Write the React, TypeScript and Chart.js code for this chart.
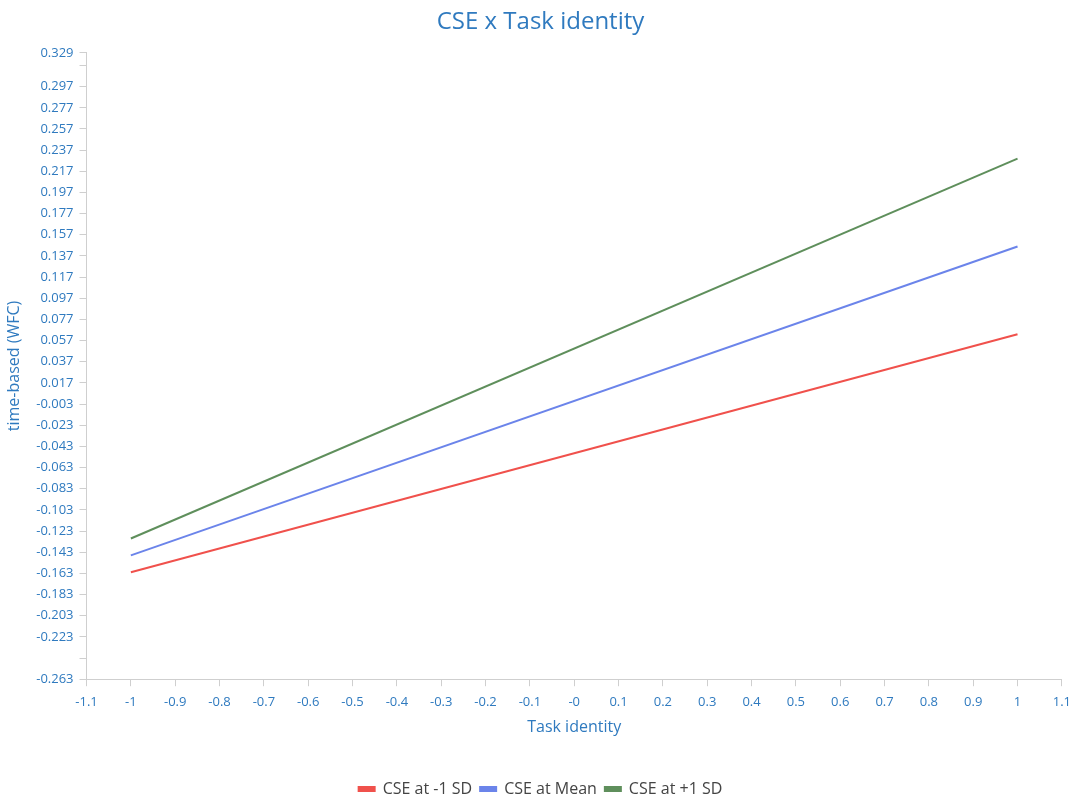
import React, { useEffect, useRef } from "react";
import { Chart, registerables } from "chart.js";

Chart.register(...registerables);

// Simple slopes of time-based WFC on task identity at three CSE levels
const xEnds = [-1, 1];
const lowSD = [-0.162, 0.063];
const meanCSE = [-0.146, 0.146];
const highSD = [-0.13, 0.229];

const seriesNames = ["CSE at -1 SD", "CSE at Mean", "CSE at +1 SD"];
const seriesColors = ["#f0514c", "#6b84ea", "#5f8f5c"];

const xTickValues = [-1.1, -1, -0.9, -0.8, -0.7, -0.6, -0.5, -0.4, -0.3, -0.2, -0.1, 0, 0.1, 0.2, 0.3, 0.4, 0.5, 0.6, 0.7, 0.8, 0.9, 1, 1.1];
const xTickLabels = ["-1.1", "-1", "-0.9", "-0.8", "-0.7", "-0.6", "-0.5", "-0.4", "-0.3", "-0.2", "-0.1", "-0", "0.1", "0.2", "0.3", "0.4", "0.5", "0.6", "0.7", "0.8", "0.9", "1", "1.1"];

const yTickValues = [0.329, 0.317, 0.297, 0.277, 0.257, 0.237, 0.217, 0.197, 0.177, 0.157, 0.137, 0.117, 0.097, 0.077, 0.057, 0.037, 0.017, -0.003, -0.023, -0.043, -0.063, -0.083, -0.103, -0.123, -0.143, -0.163, -0.183, -0.203, -0.223, -0.243, -0.263];
const yTickLabels = ["0.329", "", "0.297", "0.277", "0.257", "0.237", "0.217", "0.197", "0.177", "0.157", "0.137", "0.117", "0.097", "0.077", "0.057", "0.037", "0.017", "-0.003", "-0.023", "-0.043", "-0.063", "-0.083", "-0.103", "-0.123", "-0.143", "-0.163", "-0.183", "-0.203", "-0.223", "", "-0.263"];

const FONT = "'Open Sans', 'Noto Sans', sans-serif";
const BLUE = "#2f7abf";
const AXIS = "#cfcfcf";

export default function App() {
  const ref = useRef<HTMLCanvasElement | null>(null);

  useEffect(() => {
    document.body.style.margin = "0";
    const canvas = ref.current;
    if (!canvas) return;
    const series = [lowSD, meanCSE, highSD];
    const chart = new Chart(canvas, {
      type: "line",
      data: {
        datasets: series.map((ys, i) => ({
          label: seriesNames[i],
          data: xEnds.map((x, j) => ({ x, y: ys[j] })),
          borderColor: seriesColors[i],
          backgroundColor: seriesColors[i],
          borderWidth: 2,
          pointRadius: 0,
          tension: 0,
        })),
      },
      options: {
        animation: false,
        responsive: false,
        maintainAspectRatio: false,
        layout: { padding: { left: 5, right: 3, top: 4, bottom: -3 } },
        plugins: {
          title: {
            display: true,
            text: "CSE x Task identity",
            color: BLUE,
            font: { family: FONT, size: 24, weight: "normal" },
            padding: { top: 4, bottom: 16 },
          },
          legend: {
            position: "bottom",
            labels: {
              color: "#444",
              font: { family: FONT, size: 16 },
              boxWidth: 16,
              boxHeight: 4,
              padding: 8,
            },
          },
          tooltip: { enabled: false },
        },
        scales: {
          x: {
            type: "linear",
            min: -1.1,
            max: 1.1,
            afterBuildTicks: (scale: any) => {
              scale.ticks = xTickValues.map((v) => ({ value: v }));
            },
            ticks: {
              autoSkip: false,
              maxRotation: 0,
              color: BLUE,
              font: { family: FONT, size: 13 },
              padding: 8,
              callback: (_v: any, i: number) => xTickLabels[i],
            },
            grid: { drawOnChartArea: false, drawTicks: true, tickLength: 7, color: AXIS },
            border: { display: true, color: AXIS },
            title: {
              display: true,
              text: "Task identity",
              color: BLUE,
              font: { family: FONT, size: 16 },
              padding: { top: 0, bottom: 36 },
            },
          },
          y: {
            type: "linear",
            min: -0.263,
            max: 0.329,
            afterBuildTicks: (scale: any) => {
              scale.ticks = yTickValues.map((v) => ({ value: v }));
            },
            ticks: {
              autoSkip: false,
              color: BLUE,
              font: { family: FONT, size: 13 },
              padding: 6,
              callback: (_v: any, i: number) => yTickLabels[i],
            },
            grid: { drawOnChartArea: false, drawTicks: true, tickLength: 7, color: AXIS },
            border: { display: true, color: AXIS },
            title: {
              display: true,
              text: "time-based (WFC)",
              color: BLUE,
              font: { family: FONT, size: 16 },
              padding: { top: 0, bottom: 6 },
            },
          },
        },
      } as any,
    });
    return () => chart.destroy();
  }, []);

  return (
    <div style={{ width: 1079, height: 804, background: "#fff" }}>
      <canvas ref={ref} width={1079} height={804} style={{ display: "block" }} />
    </div>
  );
}
